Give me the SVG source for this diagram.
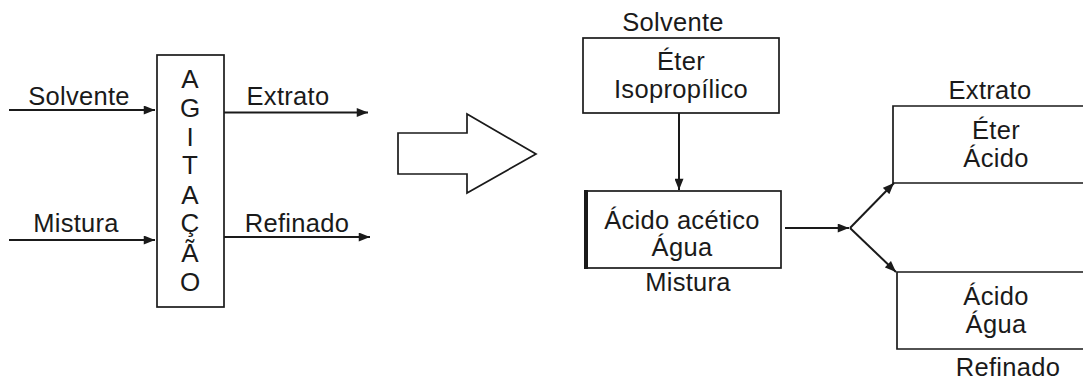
<svg xmlns="http://www.w3.org/2000/svg" width="1083" height="380" viewBox="0 0 1083 380">
<style>
text{font-family:"Liberation Sans",Arial,sans-serif;font-size:25.5px;fill:#1a1a1a;letter-spacing:0.3px;text-anchor:middle}
.v{letter-spacing:0;font-size:26px}
.box{fill:none;stroke:#1a1a1a;stroke-width:1.7}
.ln{fill:none;stroke:#1a1a1a;stroke-width:2}
</style>
<defs>
<marker id="ah" viewBox="0 0 10 8" refX="10" refY="4" markerWidth="12" markerHeight="9" markerUnits="userSpaceOnUse" orient="auto">
<path d="M0,0 L10,4 L0,8 Z" fill="#1a1a1a"/>
</marker>
</defs>
<g id="agitacao">
<rect class="box" x="157" y="55" width="67" height="252"/>
<text class="v" x="190" y="88">A</text>
<text class="v" x="190" y="117">G</text>
<text class="v" x="190" y="146">I</text>
<text class="v" x="190" y="174">T</text>
<text class="v" x="190" y="204">A</text>
<text class="v" x="190" y="232">Ç</text>
<text class="v" x="190" y="262">Ã</text>
<text class="v" x="190" y="291">O</text>
</g>
<g id="labels-left">
<text x="79" y="105">Solvente</text>
<text x="76" y="232">Mistura</text>
<text x="288" y="105">Extrato</text>
<text x="297" y="232">Refinado</text>
</g>
<g id="big-arrow">
<path class="box" d="M398,133 H467 V114 L536,154 L467,193 V174 H398 Z"/>
</g>
<g id="solvente-box">
<text x="673" y="31">Solvente</text>
<rect class="box" x="583" y="38" width="196" height="75"/>
<text x="681" y="70">Éter</text>
<text x="681" y="98">Isopropílico</text>
</g>
<g id="mistura-box">
<rect class="box" x="586" y="191" width="195" height="77"/>
<line x1="586" y1="190" x2="586" y2="269" stroke="#1a1a1a" stroke-width="4"/>
<text x="682" y="229">Ácido acético</text>
<text x="682" y="256">Água</text>
<text x="688" y="291">Mistura</text>
</g>
<g id="extrato-box">
<text x="990" y="99">Extrato</text>
<path class="box" d="M1083,106 H893 V183 H1083"/>
<text x="996" y="139">Éter</text>
<text x="996" y="167">Ácido</text>
</g>
<g id="refinado-box">
<path class="box" d="M1083,272 H897 V349 H1083"/>
<text x="996" y="305">Ácido</text>
<text x="996" y="333">Água</text>
<text x="1008" y="376">Refinado</text>
</g>
<g id="connectors">
<line class="ln" x1="9" y1="110" x2="155" y2="110" marker-end="url(#ah)"/>
<line class="ln" x1="9" y1="240" x2="155" y2="240" marker-end="url(#ah)"/>
<line class="ln" x1="224" y1="112.5" x2="368" y2="112.5" stroke-width="3" marker-end="url(#ah)"/>
<line class="ln" x1="224" y1="237" x2="370" y2="237" marker-end="url(#ah)"/>
<line class="ln" x1="679" y1="113" x2="679" y2="190" marker-end="url(#ah)"/>
<line class="ln" x1="785" y1="228" x2="849" y2="228" marker-end="url(#ah)"/>
<line class="ln" x1="850" y1="228" x2="894" y2="183" stroke-width="2.5" marker-end="url(#ah)"/>
<line class="ln" x1="850" y1="228" x2="896" y2="272" stroke-width="2.5" marker-end="url(#ah)"/>
</g>
</svg>
